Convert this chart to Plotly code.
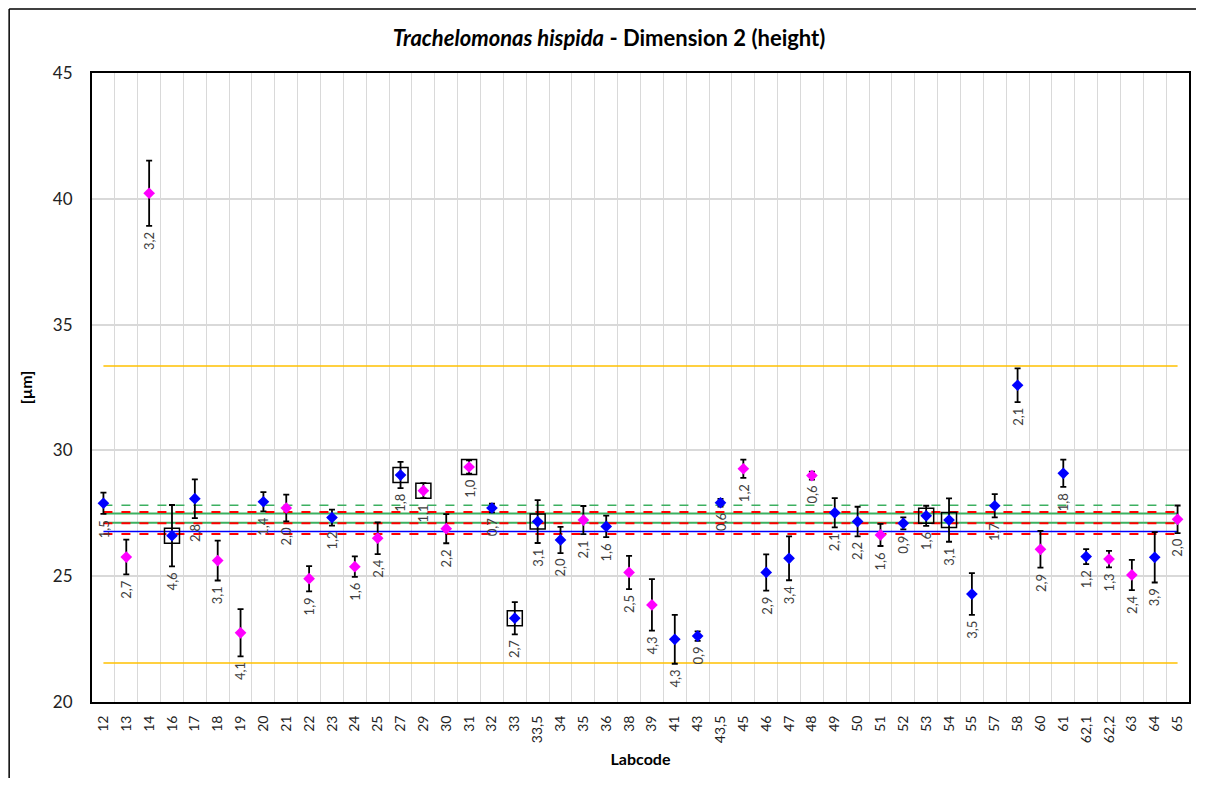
import plotly.graph_objects as go

# Data
labcodes = ["12", "13", "14", "16", "17", "18", "19", "20", "21", "22",
            "23", "24", "25", "27", "29", "30", "31", "32", "33", "33,5",
            "34", "35", "36", "38", "39", "41", "43", "43,5", "45", "46",
            "47", "48", "49", "50", "51", "52", "53", "54", "55", "57",
            "58", "60", "61", "62,1", "62,2", "63", "64", "65"]

means = [27.90, 25.76, 40.22, 26.61, 28.08, 25.62, 22.75, 27.96, 27.71, 24.90,
         27.33, 25.38, 26.51, 29.02, 28.40, 26.89, 29.34, 27.71, 23.33, 27.17,
         26.44, 27.23, 26.98, 25.15, 23.86, 22.49, 22.62, 27.92, 29.27, 25.15,
         25.71, 29.00, 27.52, 27.17, 26.64, 27.10, 27.40, 27.23, 24.29, 27.80,
         32.59, 26.07, 29.09, 25.78, 25.68, 25.05, 25.75, 27.26]

sds = [0.42, 0.69, 1.30, 1.22, 0.77, 0.79, 0.94, 0.38, 0.53, 0.50,
       0.32, 0.41, 0.63, 0.52, 0.30, 0.58, 0.26, 0.17, 0.64, 0.85,
       0.52, 0.56, 0.43, 0.66, 1.02, 0.97, 0.19, 0.15, 0.36, 0.72,
       0.87, 0.16, 0.58, 0.59, 0.44, 0.24, 0.40, 0.86, 0.83, 0.46,
       0.67, 0.73, 0.54, 0.30, 0.33, 0.60, 1.00, 0.55]

cv_labels = ["1,5", "2,7", "3,2", "4,6", "2,8", "3,1", "4,1", "1,4", "2,0", "1,9",
             "1,2", "1,6", "2,4", "1,8", "1,1", "2,2", "1,0", "0,7", "2,7", "3,1",
             "2,0", "2,1", "1,6", "2,5", "4,3", "4,3", "0,9", "0,6", "1,2", "2,9",
             "3,4", "0,6", "2,1", "2,2", "1,6", "0,9", "1,6", "3,1", "3,5", "1,7",
             "2,1", "2,9", "1,8", "1,2", "1,3", "2,4", "3,9", "2,0"]

groups = ["A", "B", "B", "A", "A", "B", "B", "A", "B", "B",
          "A", "B", "B", "A", "B", "B", "B", "A", "A", "A",
          "A", "B", "A", "B", "B", "A", "A", "A", "B", "A",
          "A", "B", "A", "A", "B", "A", "A", "A", "A", "A",
          "A", "B", "A", "A", "B", "B", "A", "B"]

flagged = ["16", "27", "29", "31", "33", "33,5", "53", "54"]

# Reference lines
limit_upper = 33.35
limit_lower = 21.55
green_dash = 27.82
green_solid = [27.49, 27.12]
red_dash = [27.55, 27.10, 26.68]
blue_line = 26.78

group_colors = {"A": "#0000FF", "B": "#FF00FF"}

# page has an 8px body margin on every side; keep the figure inside the window
W, H = 1192, 771
ML, MR, MT, MB = 84, 9, 65, 77
FONT = "Lato"

fig = go.Figure()


def hline(value, color, width, dash="solid"):
    fig.add_trace(go.Scatter(
        x=labcodes, y=[value] * len(labcodes), mode="lines",
        line=dict(color=color, width=width, dash=dash),
        hoverinfo="skip", showlegend=False,
    ))


hline(limit_upper, "#FFC000", 1.5)
hline(limit_lower, "#FFC000", 1.5)
hline(green_dash, "#3CB060", 1.5, "dash")
for v in green_solid:
    hline(v, "#3CB060", 2)
for v in red_dash:
    hline(v, "#FF0000", 2, "dash")
hline(blue_line, "#0000FF", 1.5)

# Squares around flagged results
fx = [c for c in labcodes if c in flagged]
fy = [m for c, m in zip(labcodes, means) if c in flagged]
fig.add_trace(go.Scatter(
    x=fx, y=fy, mode="markers",
    marker=dict(symbol="square-open", size=15, color="black", line=dict(width=1.5)),
    hoverinfo="skip", showlegend=False,
))

# Points with error bars, one trace per group
for g, col in group_colors.items():
    xs = [c for c, gg in zip(labcodes, groups) if gg == g]
    ys = [m for m, gg in zip(means, groups) if gg == g]
    es = [s for s, gg in zip(sds, groups) if gg == g]
    fig.add_trace(go.Scatter(
        x=xs, y=ys, mode="markers",
        marker=dict(symbol="diamond", size=9, color=col),
        error_y=dict(type="data", array=es, color="black", thickness=1.8, width=3),
        showlegend=False,
    ))

# CV labels under each error bar (category index as x)
for i, (m, s, t) in enumerate(zip(means, sds, cv_labels)):
    fig.add_annotation(
        x=i, y=m - s, xref="x", yref="y", text=t, textangle=-90,
        showarrow=False, xanchor="center", yanchor="top", yshift=-4,
        font=dict(family=FONT, size=13, color="#404040"),
    )

pw = W - ML - MR
ph = H - MT - MB
# Outer chart border: only left and top edges show in the reference
bx = (1 - ML) / pw
by = 1 + (MT - 1) / ph
fig.add_shape(type="line", xref="paper", yref="paper",
              x0=bx, x1=bx, y0=-(MB - 1) / ph, y1=by,
              line=dict(color="black", width=1.5), layer="above")
fig.add_shape(type="line", xref="paper", yref="paper",
              x0=bx, x1=(W - ML - 2) / pw, y0=by, y1=by,
              line=dict(color="black", width=1.5), layer="above")

fig.update_layout(
    width=W, height=H,
    margin=dict(l=ML, r=MR, t=MT, b=MB),
    plot_bgcolor="white", paper_bgcolor="white",
    font=dict(family=FONT, color="black"),
    title=dict(
        text="<b><i>Trachelomonas hispida</i> - Dimension 2 (height)</b>",
        x=(609 - 8) / W, xanchor="center", y=1 - 30 / H, yanchor="middle",
        font=dict(family=FONT, size=22, color="black"),
    ),
)

fig.update_xaxes(
    type="category", categoryorder="array", categoryarray=labcodes,
    range=[-0.5, len(labcodes) - 0.5],
    tickson="boundaries", ticks="", tickangle=-90,
    tickfont=dict(family=FONT, size=14, color="#222222"),
    ticklabelstandoff=6,
    showgrid=True, gridcolor="#D9D9D9", gridwidth=1,
    showline=True, linecolor="black", linewidth=2, mirror=True,
    title=dict(text="<b>Labcode</b>", font=dict(family=FONT, size=16), standoff=12),
)

fig.update_yaxes(
    range=[20, 45], dtick=5, tick0=20,
    ticks="", tickfont=dict(family=FONT, size=17, color="#222222"),
    ticklabelstandoff=14,
    showgrid=True, gridcolor="#D9D9D9", gridwidth=1.5, zeroline=False,
    showline=True, linecolor="black", linewidth=2, mirror=True,
    title=dict(text="<b>[µm]</b>", font=dict(family=FONT, size=16), standoff=16),
)

fig.write_html("out.html")
